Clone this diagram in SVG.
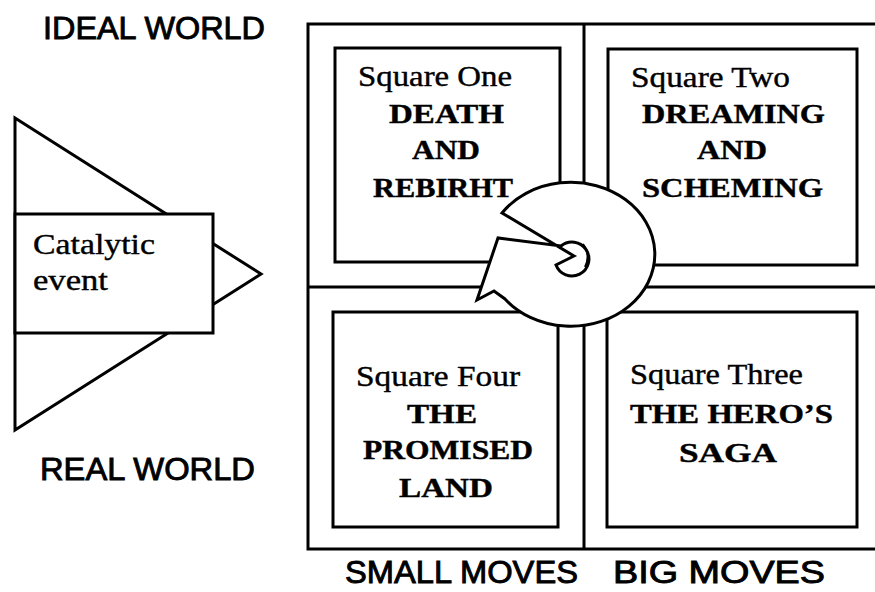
<svg xmlns="http://www.w3.org/2000/svg" width="875" height="592" viewBox="0 0 875 592">
  <style>
    .line { fill: none; stroke: #000; stroke-width: 3; stroke-linejoin: miter; }
    .box { fill: #fff; stroke: #000; stroke-width: 3; }
    .axis { font-family: "Liberation Sans", Arial, sans-serif; font-size: 31px; fill: #000; stroke: #000; stroke-width: 0.9px; }
    .title { font-family: "Liberation Serif", "Times New Roman", serif; font-size: 29px; fill: #000; stroke: #000; stroke-width: 0.4px; }
    .name { font-family: "Liberation Serif", "Times New Roman", serif; font-size: 28px; font-weight: bold; fill: #000; stroke: #000; stroke-width: 0.4px; }
  </style>

  <rect width="875" height="592" fill="#fff"/>

  <!-- axis labels -->
  <g id="axis-labels">
    <text class="axis" x="43" y="39" textLength="222" lengthAdjust="spacingAndGlyphs">IDEAL WORLD</text>
    <text class="axis" x="40" y="480" textLength="215" lengthAdjust="spacingAndGlyphs">REAL WORLD</text>
    <text class="axis" x="345" y="583" textLength="233" lengthAdjust="spacingAndGlyphs">SMALL MOVES</text>
    <text class="axis" x="613" y="583" textLength="212" lengthAdjust="spacingAndGlyphs">BIG MOVES</text>
  </g>

  <!-- catalytic event: wedge pointing into the grid, label box on top -->
  <g id="catalytic-event">
    <polygon class="box" points="15,118 261,274 15,430"/>
    <rect class="box" x="15" y="214" width="198" height="119"/>
    <text class="title" x="33" y="254" textLength="122" lengthAdjust="spacingAndGlyphs">Catalytic</text>
    <text class="title" x="33" y="290" textLength="75" lengthAdjust="spacingAndGlyphs">event</text>
  </g>

  <!-- outer grid frame -->
  <g id="grid">
    <path class="line" d="M877,24 L308,24 L308,549 L877,549"/>
    <path class="line" d="M308,287 L877,287"/>
    <path class="line" d="M584,24 L584,549"/>
  </g>

  <g id="square-one">
    <rect class="box" x="335" y="48" width="225" height="214"/>
    <text class="title" x="358" y="86" textLength="154" lengthAdjust="spacingAndGlyphs">Square One</text>
    <text class="name" x="389" y="123" textLength="115" lengthAdjust="spacingAndGlyphs">DEATH</text>
    <text class="name" x="412" y="159" textLength="68" lengthAdjust="spacingAndGlyphs">AND</text>
    <text class="name" x="373" y="197" textLength="140" lengthAdjust="spacingAndGlyphs">REBIRHT</text>
  </g>

  <g id="square-two">
    <rect class="box" x="608" y="49" width="249" height="216"/>
    <text class="title" x="631" y="87" textLength="159" lengthAdjust="spacingAndGlyphs">Square Two</text>
    <text class="name" x="642" y="123" textLength="183" lengthAdjust="spacingAndGlyphs">DREAMING</text>
    <text class="name" x="697" y="159" textLength="70" lengthAdjust="spacingAndGlyphs">AND</text>
    <text class="name" x="642" y="197" textLength="181" lengthAdjust="spacingAndGlyphs">SCHEMING</text>
  </g>

  <g id="square-four">
    <rect class="box" x="333" y="312" width="225" height="215"/>
    <text class="title" x="356" y="386" textLength="164" lengthAdjust="spacingAndGlyphs">Square Four</text>
    <text class="name" x="407" y="423" textLength="70" lengthAdjust="spacingAndGlyphs">THE</text>
    <text class="name" x="363" y="459" textLength="170" lengthAdjust="spacingAndGlyphs">PROMISED</text>
    <text class="name" x="399" y="497" textLength="94" lengthAdjust="spacingAndGlyphs">LAND</text>
  </g>

  <g id="square-three">
    <rect class="box" x="607" y="312" width="250" height="215"/>
    <text class="title" x="630" y="384" textLength="173" lengthAdjust="spacingAndGlyphs">Square Three</text>
    <text class="name" x="630" y="423" textLength="203" lengthAdjust="spacingAndGlyphs">THE HERO’S</text>
    <text class="name" x="679" y="462" textLength="98" lengthAdjust="spacingAndGlyphs">SAGA</text>
  </g>

  <!-- cycle arrow sitting over the centre of the grid -->
  <g id="connectors">
    <g id="cycle-arrow">
      <path class="box" d="M502,213 L574,256 L556,265 A17,17 0 1 0 561,246 L498,238 L477,300 L494,291 L505,299 A84,72 0 1 0 502,213 Z"/>
      <path d="M583,244 Q591,255 585,267" fill="none" stroke="#000" stroke-width="2"/>
    </g>
  </g>
</svg>
